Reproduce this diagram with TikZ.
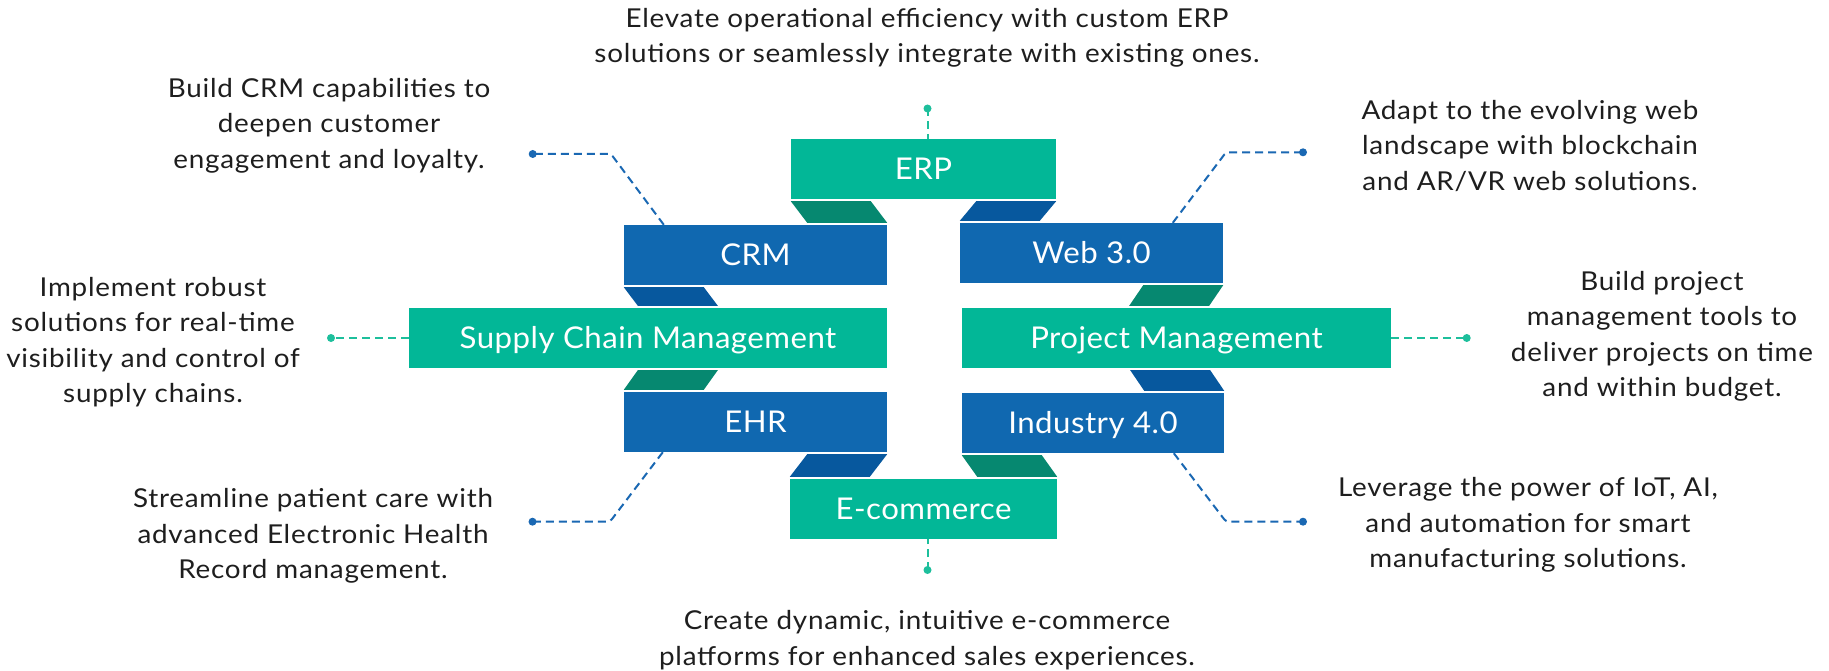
\documentclass[tikz,border=0pt]{standalone}
\usepackage{fontspec}
\setmainfont{Lato}
\newfontfamily\descfont{Lato}[FakeStretch=1.07, LetterSpace=3]
\newfontfamily\boxfont{Lato}[FakeStretch=1.04, LetterSpace=1.6]
\usetikzlibrary{calc}
\definecolor{boxteal}{HTML}{02B797}
\definecolor{boxblue}{HTML}{1068B0}
\definecolor{linkgreen}{HTML}{068870}
\definecolor{linkblue}{HTML}{07589E}
\definecolor{lineblue}{HTML}{1A68B3}
\definecolor{lineteal}{HTML}{1DBF9C}
\definecolor{textdark}{HTML}{1E1E1E}
\begin{document}
\begin{tikzpicture}[x=1pt,y=-1pt,
  box/.style={inner sep=0pt, minimum height=60pt, font=\boxfont\fontsize{30}{36}\selectfont, text=white, text height=21.5pt, text depth=0pt},
  tealbox/.style={box, fill=boxteal},
  bluebox/.style={box, fill=boxblue},
  desc/.style={anchor=north, inner sep=0pt, align=center, text=textdark, font=\descfont\fontsize{26}{35.5}\selectfont},
  bluedash/.style={draw=lineblue, line width=2pt, dash pattern=on 8pt off 5pt, rounded corners=3pt},
  tealdash/.style={draw=lineteal, line width=2pt, dash pattern=on 8pt off 5pt},
  bluedot/.style={fill=lineblue},
  tealdot/.style={fill=lineteal},
  greenlink/.style={fill=linkgreen},
  bluelink/.style={fill=linkblue},
]
\useasboundingbox (0,0) rectangle (1829,671);
\fill[white] (0,0) rectangle (1829,671);

% boxes
\node[tealbox, minimum width=265pt] (erp) at (923.5,169) {ERP};
\node[bluebox, minimum width=263pt] (crm) at (755.5,255) {CRM};
\node[bluebox, minimum width=263pt] (web) at (1091.5,253) {Web 3.0};
\node[tealbox, minimum width=478pt] (scm) at (648,338) {Supply Chain Management};
\node[tealbox, minimum width=429pt] (pm) at (1176.5,338) {Project Management};
\node[bluebox, minimum width=263pt] (ehr) at (755.5,422) {EHR};
\node[bluebox, minimum width=262pt] (ind) at (1093,423) {Industry 4.0};
\node[tealbox, minimum width=267pt] (ecom) at (923.5,509) {E-commerce};

% slanted links
\fill[greenlink] ($(erp.south west)+(0,2)$) -- ++(80,0) -- ($(crm.north east)+(0,-2)$) -- ++(-80,0) -- cycle;
\fill[bluelink] ($(erp.south east)+(0,2)$) -- ++(-80,0) -- ($(web.north west)+(0,-2)$) -- ++(80,0) -- cycle;
\fill[bluelink] ($(crm.south west)+(0,2)$) -- ++(80,0) -- ($(crm.south west |- scm.north)+(94,-2)$) -- ++(-80,0) -- cycle;
\fill[greenlink] ($(web.south east)+(0,2)$) -- ++(-80,0) -- ($(web.south east |- pm.north)+(-94,-2)$) -- ++(80,0) -- cycle;
\fill[greenlink] ($(ehr.north west)+(0,-2)$) -- ++(80,0) -- ($(ehr.north west |- scm.south)+(94,2)$) -- ++(-80,0) -- cycle;
\fill[bluelink] ($(ind.north east)+(0,-2)$) -- ++(-80,0) -- ($(ind.north east |- pm.south)+(-94,2)$) -- ++(80,0) -- cycle;
\fill[bluelink] ($(ehr.south east)+(0,2)$) -- ++(-80,0) -- ($(ecom.north west)+(0,-2)$) -- ++(80,0) -- cycle;
\fill[greenlink] ($(ind.south west)+(0,2)$) -- ++(80,0) -- ($(ecom.north east)+(0,-2)$) -- ++(-80,0) -- cycle;

% dashed leaders
\coordinate (crmdot) at (532.7,154);
\coordinate (crmbend) at (611,154);
\draw[bluedash] ($(crm.north west)+(40,0)$) -- (crmbend) -- (crmdot);
\fill[bluedot] (crmdot) circle (4pt);

\coordinate (webdot) at (1303,152.3);
\coordinate (webbend) at (1226,152.3);
\draw[bluedash] ($(web.north west)+(213,0)$) -- (webbend) -- (webdot);
\fill[bluedot] (webdot) circle (4pt);

\coordinate (ehrdot) at (532.5,521.7);
\coordinate (ehrbend) at (610,521.7);
\draw[bluedash] ($(ehr.south west)+(39,0)$) -- (ehrbend) -- (ehrdot);
\fill[bluedot] (ehrdot) circle (4pt);

\coordinate (inddot) at (1303,521.7);
\coordinate (indbend) at (1226,521.7);
\draw[bluedash] ($(ind.south west)+(212,0)$) -- (indbend) -- (inddot);
\fill[bluedot] (inddot) circle (4pt);

\coordinate (scmdot) at (331,338);
\draw[tealdash] (scm.west) -- (scmdot);
\fill[tealdot] (scmdot) circle (4pt);

\coordinate (pmdot) at (1466.7,338);
\draw[tealdash] (pm.east) -- (pmdot);
\fill[tealdot] (pmdot) circle (4pt);

\coordinate (erpdot) at (927.5,108.5);
\draw[tealdash] (erpdot) -- (erpdot |- erp.north);
\fill[tealdot] (erpdot) circle (4pt);

\coordinate (ecomdot) at (927.5,570);
\draw[tealdash] (ecomdot) -- (ecomdot |- ecom.south);
\fill[tealdot] (ecomdot) circle (4pt);

% descriptions
\node[desc] (erpdesc) at (927,8) {Elevate operational efficiency with custom ERP\\solutions or seamlessly integrate with existing ones.};
\node[desc] (crmdesc) at (329,78) {Build CRM capabilities to\\deepen customer\\engagement and loyalty.};
\node[desc] (webdesc) at (1530,100) {Adapt to the evolving web\\landscape with blockchain\\and AR/VR web solutions.};
\node[desc] (scmdesc) at (153,277) {Implement robust\\solutions for real-time\\visibility and control of\\supply chains.};
\node[desc] (pmdesc) at (1662,271) {Build project\\management tools to\\deliver projects on time\\and within budget.};
\node[desc] (ehrdesc) at (313,488.5) {Streamline patient care with\\advanced Electronic Health\\Record management.};
\node[desc] (inddesc) at (1528,477.5) {Leverage the power of IoT, AI,\\and automation for smart\\manufacturing solutions.};
\node[desc] (ecomdesc) at (927,610.5) {Create dynamic, intuitive e-commerce\\platforms for enhanced sales experiences.};
\end{tikzpicture}
\end{document}
